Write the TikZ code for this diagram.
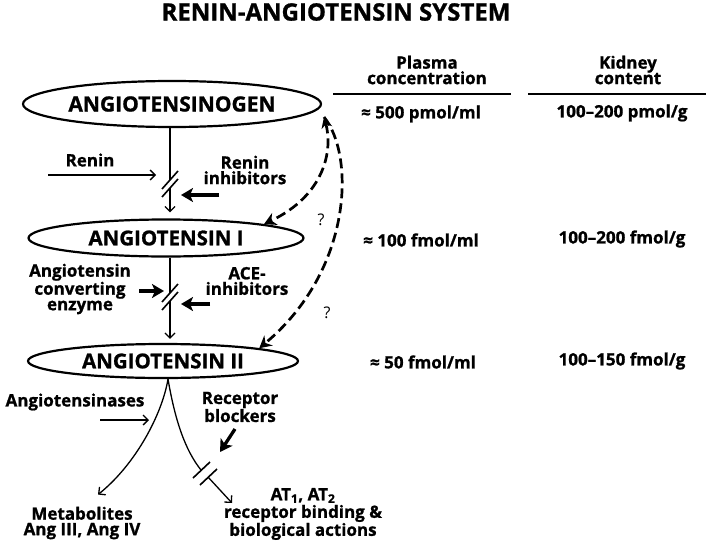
\documentclass[tikz,border=0pt]{standalone}
\usepackage{fontspec}
\setmainfont{Open Sans}[BoldFeatures={FakeBold=1}]
\usetikzlibrary{shapes.geometric,arrows.meta}

\begin{document}
\begin{tikzpicture}[x=1pt,y=-1pt,
  every node/.style={font=\bfseries\fontsize{17}{15.5}\selectfont,align=center,inner sep=0pt},
  stage/.style={draw,ellipse,line width=2.2pt,inner sep=0pt,font=\bfseries\fontsize{20.5}{20.5}\selectfont},
  thinarrow/.style={line width=1.3pt,-{Straight Barb[length=5pt,width=10pt]}},
  drugarrow/.style={line width=3.3pt,-{Stealth[length=12pt,width=14pt,inset=3pt]}},
  cutmark/.style={line width=1.6pt},
  maybe/.style={line width=2.7pt,dash pattern=on 10pt off 5pt,-{Stealth[length=12pt,width=13pt]}},
  qmark/.style={font=\fontsize{16}{16}\selectfont},
  rule/.style={line width=1.5pt}]
  \useasboundingbox (0,0) rectangle (706,543);
  \node (title) at (336,12) {\fontsize{24}{24}\selectfont RENIN-ANGIOTENSIN SYSTEM};
  \node[stage,minimum width=298,minimum height=46,font=\bfseries\fontsize{21}{21}\selectfont] (agen) at (172,104) {ANGIOTENSINOGEN};
  \node[stage,minimum width=275,minimum height=37] (ang1) at (166,238) {ANGIOTENSIN I};
  \node[stage,minimum width=270,minimum height=34] (ang2) at (163,361) {ANGIOTENSIN II};
  \node (renin) at (90,160) {Renin};
  \node (reninh) at (245,170) {Renin\\inhibitors};
  \node (ace) at (80,289) {Angiotensin\\converting\\enzyme};
  \node (aceinh) at (247,281) {ACE-\\inhibitors};
  \node (angase) at (75,402) {Angiotensinases};
  \node (recblk) at (240,407) {Receptor\\blockers};
  \node (metab) at (82,523) {Metabolites\\Ang III, Ang IV};
  \node (at) at (303,514) {AT\textsubscript{1}, AT\textsubscript{2}\\[1pt]receptor binding \&\\biological actions};
  \node (plasma) at (427,70) {Plasma\\concentration};
  \node (kidney) at (628,70) {Kidney\\content};
  \draw[rule] (333,94) -- (511,94);
  \draw[rule] (528,94) -- (706,94);
  \node (p1) at (421,114) {≈ 500 pmol/ml};
  \node (k1) at (622,113) {100–200 pmol/g};
  \node (p2) at (421,240) {≈ 100 fmol/ml};
  \node (k2) at (622,239) {100–200 fmol/g};
  \node (p3) at (423,362) {≈ 50 fmol/ml};
  \node (k3) at (622,361) {100–150 fmol/g};
  \coordinate (r1) at (170,180);
  \coordinate (r2) at (170,188);
  \coordinate (r3) at (170,293);
  \coordinate (r4) at (170,301);
  \coordinate (r5) at (201,470);
  \coordinate (r6) at (208,477);
  \draw[line width=1.3pt] (agen.south -| r1) -- (r1);
  \draw[thinarrow,shorten >=6pt] (r2) -- (ang1.north -| r2);
  \draw[line width=1.3pt] (ang1.south -| r3) -- (r3);
  \draw[thinarrow,shorten >=4pt] (r4) -- (ang2.north -| r4);
  \foreach \c in {r1,r2,r3,r4}
    \draw[cutmark] (\c) ++(-8,9) -- ++(16,-18);
  \draw[cutmark] (r5) ++(-8,8) -- ++(17,-16);
  \draw[cutmark] (r6) ++(-8,8) -- ++(17,-16);
  \coordinate (reninA) at (48,175);
  \coordinate (reninB) at (156,175);
  \coordinate (reninhA) at (219,195);
  \coordinate (reninhB) at (181,195);
  \coordinate (aceA) at (139,291);
  \coordinate (aceB) at (164,291);
  \coordinate (aceinhA) at (210,304);
  \coordinate (aceinhB) at (181,304);
  \coordinate (angaseA) at (100,420);
  \coordinate (angaseB) at (149,420);
  \coordinate (recblkA) at (235,429);
  \coordinate (recblkB) at (220,452);
  \coordinate (attip) at (232,503);
  \draw[thinarrow] (reninA) -- (reninB);
  \draw[drugarrow] (reninhA) -- (reninhB);
  \draw[drugarrow] (aceA) -- (aceB);
  \draw[drugarrow] (aceinhA) -- (aceinhB);
  \draw[thinarrow] (angaseA) -- (angaseB);
  \draw[drugarrow] (recblkA) -- (recblkB);
  \draw[thinarrow] ([xshift=5pt]ang2.south) .. controls (162,415) and (135,465) .. ([xshift=16pt,yshift=12pt]metab.north);
  \draw[line width=1.3pt] ([xshift=5pt]ang2.south) .. controls (175,420) and (185,450) .. (r5);
  \draw[thinarrow] (r6) -- (attip);
  \coordinate (split) at (324,117);
  \draw[maybe,{Stealth[length=11pt,width=11pt]}-{Stealth[length=12pt,width=13pt]}] (split) .. controls (333,150) and (325,195) .. (ang1.north east);
  \draw[maybe] (split) .. controls (355,155) and (353,270) .. (ang2.north east);
  \node[qmark] (q1) at (321,220) {?};
  \node[qmark] (q2) at (327,313) {?};
\end{tikzpicture}
\end{document}
